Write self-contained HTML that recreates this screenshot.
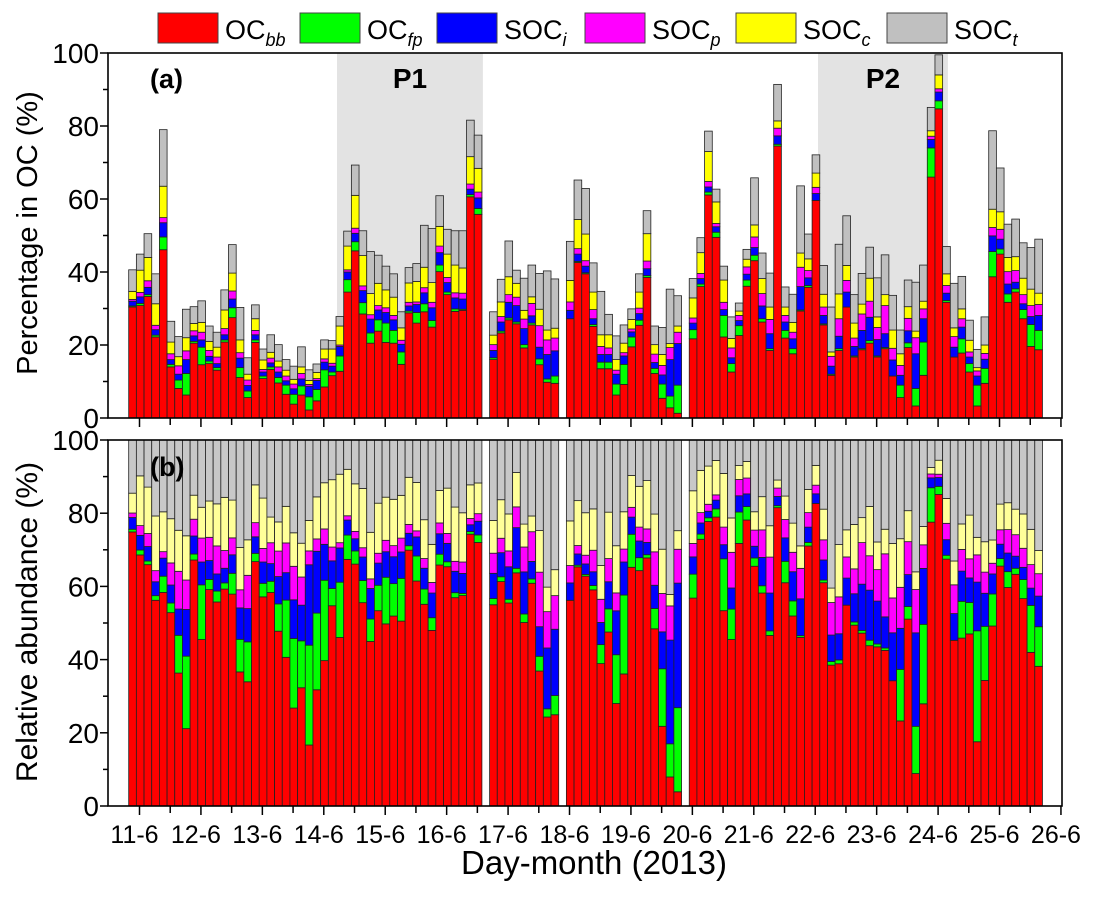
<!DOCTYPE html>
<html><head><meta charset="utf-8"><title>OC source apportionment</title>
<style>
html,body{margin:0;padding:0;background:#fff;}
svg text{font-family:"Liberation Sans",Arial,sans-serif;fill:#000;}
</style></head>
<body>
<svg id="chart" width="1093" height="897" viewBox="0 0 1093 897" xmlns="http://www.w3.org/2000/svg">
<g id="legend"></g>
<g id="panelA"></g>
<g id="panelB"></g>
<g id="axes"></g>
</svg>
<script>
// ---- data (panel a, % in OC); null = missing sample ----
const ocbb = [30.4,30.8,33.3,22.2,46.1,14,8.1,6.3,20.5,14.6,14.9,13.1,20.8,27.5,11.1,5.6,20.7,10.8,13.3,9.6,6.5,3.8,6.3,2.2,4.7,8.5,11.6,12.8,34.5,45.8,28.5,20.5,23.8,20.7,20.5,14.7,28.8,26,29.1,24.9,40.1,33.8,29.2,29.5,60.6,55.8,null,
16,23.3,26.9,25.8,19.2,25.5,14.6,9.8,9.5,null,
27.2,42.6,39.5,25.1,13.5,13.5,6.3,9.2,19.5,25.4,38.5,12.2,5.4,2.8,1.3,null,
21.7,36,61.1,49.5,22.2,12.6,22.6,36.1,43.1,26.3,18.5,74.5,21.9,17.6,29.3,35.8,59.6,25.5,11.7,18.5,30.4,16.7,18.7,20.5,16.7,19,11.5,5.6,19.3,3.3,11.7,66,84.7,31.7,16.7,17.8,12.6,3.3,9.5,38.7,44.9,31.7,34.5,27.2,19.6,18.7];
const ocfp = [.3,.6,.5,.5,3.5,.7,2.3,5.9,.5,4.8,.7,.7,.6,2.7,2.7,1.8,.7,.7,.7,1.5,2.5,2.7,2.5,3.6,3.1,4.7,1,4.2,3.4,2.5,3.1,2.8,3.1,5.3,3.5,3.4,.5,2.9,2.2,1.8,1.8,.7,.7,.3,.6,1.6,null,
.5,.5,.5,.5,.9,.5,1.6,.9,2,null,
0,.3,.3,.5,1.8,1.8,3,5.5,2.7,1.4,.5,1.4,3.9,3.2,7.7,null,
2.5,.7,.8,1.4,5.9,2.3,2.7,1.7,1.5,.9,.5,.5,2.1,1.4,.3,.5,0,.3,.3,.5,0,.3,.3,.7,.3,.3,0,3.4,1.3,4.8,9.1,8,2.2,.5,0,3.9,2.3,5.7,4.1,6.9,1.4,2.3,.9,2.5,6,5.3];
const soci = [1.3,1.8,2,1.5,3.9,1.3,1.6,3.8,1.5,2,1.3,1.1,1.4,2.4,2.6,1.5,1.4,1.1,1.1,1.5,1.2,1.5,1.9,2.9,2.5,2.1,1.6,2.6,2.1,2.3,3.3,3.8,2.7,2.9,2.9,2.1,1.4,2.2,3,3.5,3.4,2.6,3,2.8,1.5,2.9,null,
2,2.5,4.3,4.5,4.4,2,3.2,6.7,6.9,null,
2.3,2,1.8,1.6,2.1,2.1,2.7,2.3,1.4,1.8,1.9,1.6,2.5,10,11.4,null,
1.8,1.5,1.4,1.5,1.6,1.6,1.4,1.6,2.1,3.5,4.1,2.3,2.3,2.7,6.4,2.1,1.9,2.3,2.2,3.4,4.1,2.6,5,6.4,4.5,3.8,4.4,2.7,3.3,9.5,6.4,2.3,2.4,2,2.7,3.2,1.8,2.5,2.5,4.3,2.7,2.7,1.8,1.6,2.2,4.1];
const socp = [.5,1.2,1.8,1.2,1.4,1.6,2.3,2.4,1.4,2.1,1.6,1.8,1.7,2.2,1.5,1.5,1.2,.7,1.3,1.4,1.3,1.3,1.5,.5,.5,.9,.8,.4,.6,1.4,1.3,1.2,1.2,1.3,1.2,1.1,1,.7,1.4,1.5,1.8,1.4,1.4,1.6,1.4,1.6,null,
1.6,1.5,2.1,2.3,2.6,3.4,5.9,4,3.5,null,
2.3,1.5,1.5,2.5,2.2,1.8,1.1,.9,.8,1.5,2.1,2.3,2.6,3.3,3.1,null,
1.4,1.4,1.5,.9,2,2.7,1.4,2,2.9,3.4,3.9,2.1,1.8,1.8,5.3,2,1.7,2.3,2.7,4.8,3.2,2.3,4.5,4.4,3.3,7.7,3.2,2.7,3.4,4.4,2.7,.9,.9,2.1,2.9,2.3,1.4,1.4,1.6,2.3,2.7,3.4,3.2,2.5,3,3];
const socc = [2.2,6.1,6.4,5.9,8.6,3.2,2.5,3.6,2,2.7,2.5,2.7,5.1,4.9,3.5,1.6,3.2,2.6,1.6,1.6,1.6,1.3,1.8,1.1,1.7,2.7,3.9,5.2,6.5,9,8.3,5.8,6.1,4.9,5,3.4,5.3,5.6,5.6,5.4,5.4,6.4,7.6,6.9,7.5,6.5,null,
2.6,4,4.9,3.8,2.4,1.8,4.5,2.7,2.7,null,
5.9,8,7.3,4.8,3.2,3.6,2.9,2.6,2.6,4.4,7.5,2.6,3,1.1,1.7,null,
5.5,5.7,8.2,5.9,6.1,2.6,1.2,2.1,3.3,4.1,3.4,2,2.3,2.7,3.9,3.2,3.9,3.5,1.2,6.8,4.1,4.1,2.7,6.3,2.9,3,5,3.2,3.2,1.8,2.1,1.5,3.8,3.2,2.4,2.7,3.2,.9,2.3,5,4.8,3.9,3.8,4.5,4.5,3.1];
const soct = [5.9,4.4,6.5,8.2,15.5,5.7,5.5,7.8,4.6,5.9,4.2,4.1,5.5,7.8,8.9,4.5,3.8,3,4.8,4.5,2.9,3.6,5.5,2.9,2.3,2.5,2.3,2.6,4.1,8.3,6.8,11.5,7.7,6.5,6.4,4.4,4.2,4.9,11.5,14.8,8.4,6.8,9.4,10.2,10,9.1,null,
6.4,6.2,9.8,3.6,8.8,8.7,9.8,16.2,13.5,null,
10.7,10.8,12.5,8,11.9,5.6,6.5,5,2.9,5,6.3,5.1,7.4,14.9,8.3,null,
5.3,4.1,5.6,3.5,3.8,5.9,2.2,2.7,12.9,7,9.3,10,5.5,7.7,18.4,6.8,5,7.9,12.3,13.6,13.6,7.8,8.4,8.5,10.7,10.9,9.5,6.5,7.3,13.4,9.9,6.4,5.5,7.5,12.2,8.9,5.5,5,7.7,21.5,12,9.1,10.3,9.7,11.4,14.8];
const seriesNames = ["OCbb","OCfp","SOCi","SOCp","SOCc","SOCt"];
const dayLabels = ["11-6","12-6","13-6","14-6","15-6","16-6","17-6","18-6","19-6","20-6","21-6","22-6","23-6","24-6","25-6","26-6"];
const yTicks = [0,20,40,60,80,100];
const periodP1 = [14.215, 16.59];
const periodP2 = [22.045, 24.16];
const firstSampleDay = 10.824;
const samplesPerDay = 8;

const NS = "http://www.w3.org/2000/svg";
const X0 = 108, X1 = 1062;
const xScale = d => 139.5 + (d - 11) * 61.43;
const yA = v => 418 - v * 3.65;
const yB = v => 806 - v * 3.66;
const colorsA = ["#ff0000","#00ff00","#0000ff","#ff00ff","#ffff00","#c0c0c0"];
const colorsB = ["#ff0000","#00ff00","#0000ff","#ff00ff","#ffff99","#c8c8c8"];
const series = [ocbb, ocfp, soci, socp, socc, soct];

function mk(tag, attrs, parent){
  const e = document.createElementNS(NS, tag);
  for (const k in attrs) e.setAttribute(k, attrs[k]);
  parent.appendChild(e);
  return e;
}
const gA = document.getElementById("panelA");
const gB = document.getElementById("panelB");
const gAx = document.getElementById("axes");
const gL = document.getElementById("legend");

[[periodP1,"P1"],[periodP2,"P2"]].forEach(([p,lab])=>{
  const r = mk("rect",{x:xScale(p[0]),y:53,width:xScale(p[1])-xScale(p[0]),height:365,fill:"#e3e3e3"},gA);
  
  
  const t = mk("text",{x:(xScale(p[0])+xScale(p[1]))/2,y:88,"font-size":"28","font-weight":"bold","text-anchor":"middle"},gA);
  t.textContent = lab;
  
  
});

const bw = 61.43 / samplesPerDay;
for (let i = 0; i < ocbb.length; i++){
  if (ocbb[i] === null) continue;
  const x = xScale(firstSampleDay + i / samplesPerDay);
  const vals = series.map(s => s[i] || 0);
  const tot = vals.reduce((a,b)=>a+b,0);
  let ca = 0, cb = 0;
  for (let k = 0; k < 6; k++){
    const v = vals[k];
    const ra = mk("rect",{x:x,y:yA(ca+v),width:bw,height:Math.max(0,yA(ca)-yA(ca+v)),fill:colorsA[k],stroke:"#222","stroke-width":"0.8"},gA);
    
    
    ca += v;
    const vb = v / tot * 100;
    const rb = mk("rect",{x:x,y:yB(cb+vb),width:bw,height:Math.max(0,yB(cb)-yB(cb+vb)),fill:colorsB[k],stroke:"#222","stroke-width":"0.8"},gB);
    
    
    cb += vb;
  }
}

[["(a)",88,"panel-a-label"],["(b)",476,"panel-b-label"]].forEach(([s,y,n])=>{
  const t = mk("text",{x:150,y:y,"font-size":"27","font-weight":"bold"},gAx);
  t.textContent = s;
  
  
});

[[53,418,yA,"a"],[440,806,yB,"b"]].forEach(([top,bot,ys,p])=>{
  const f = mk("rect",{x:X0,y:top,width:X1-X0,height:bot-top,fill:"none",stroke:"#000","stroke-width":"1.6"},gAx);
  
  
  for (let v = 0; v <= 100; v += 10){
    const major = v % 20 === 0;
    mk("line",{x1:X0-(major?8:5),x2:X0,y1:ys(v),y2:ys(v),stroke:"#000","stroke-width":"1.5"},gAx);
  }
  yTicks.forEach(v=>{
    const t = mk("text",{x:X0-9,y:ys(v)+10,"font-size":"28","text-anchor":"end"},gAx);
    t.textContent = v;
    
    
  });
  for (let h = 0; h <= 30; h++){
    const xx = xScale(11 + h/2);
    mk("line",{x1:xx,x2:xx,y1:bot,y2:bot+(h%2===0?9:7),stroke:"#000","stroke-width":"1.5"},gAx);
  }
});
dayLabels.forEach((s,i)=>{
  const t = mk("text",{x:xScale(11+i)-5,y:843,"font-size":"25","text-anchor":"middle"},gAx);
  t.textContent = s;
  
  
});
const xt = mk("text",{x:594,y:874,"font-size":"33","text-anchor":"middle"},gAx);
xt.textContent = "Day-month (2013)";


[["Percentage in OC (%)",233,"y-axis-title-a",29],["Relative abundance (%)",622,"y-axis-title-b",30]].forEach(([s,cy,n,fs])=>{
  const t = mk("text",{x:0,y:0,"font-size":fs,"text-anchor":"middle",transform:"translate(37,"+cy+") rotate(-90)"},gAx);
  t.textContent = s;
  
  
});

const legX = [158,300,437,585,736,887];
const legMain = ["OC","OC","SOC","SOC","SOC","SOC"];
const legSub = ["bb","fp","i","p","c","t"];
for (let k = 0; k < 6; k++){
  const r = mk("rect",{x:legX[k],y:13,width:60,height:30,fill:colorsA[k],stroke:"#444","stroke-width":"1"},gL);
  
  
  const t = mk("text",{x:legX[k]+67,y:39,"font-size":"27"},gL);
  
  
  t.appendChild(document.createTextNode(legMain[k]));
  const sub = mk("tspan",{"font-size":"18","font-style":"italic",dy:"7"},t);
  sub.textContent = legSub[k];
}
</script>
</body></html>
